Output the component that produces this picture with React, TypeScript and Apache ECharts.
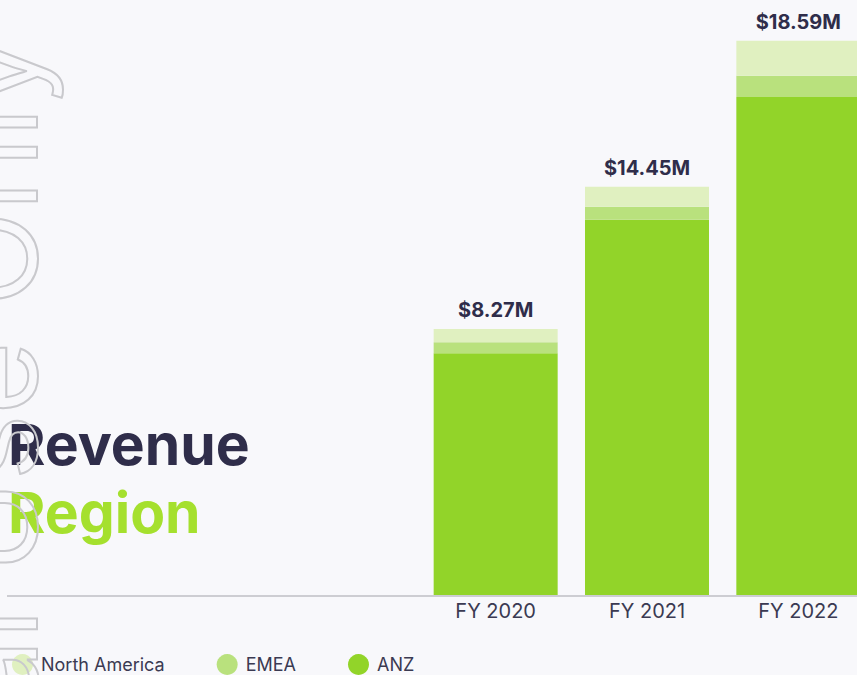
import React, { useEffect, useRef } from "react";
import * as echarts from "echarts";

const categories = ["FY 2020", "FY 2021", "FY 2022"];
const anzValues = [8.13, 12.61, 16.74];
const emeaValues = [0.37, 0.44, 0.71];
const northAmericaValues = [0.44, 0.67, 1.18];
const totalLabels = ["$8.27M", "$14.45M", "$18.59M"];
const legendNames = ["North America", "EMEA", "ANZ"];

const COLORS = {
  anz: "#92d429",
  emea: "#b9e17d",
  na: "#e0f0c0",
  dark: "#2f2d4a",
  lime: "#a5e02e",
  bg: "#f8f8fb",
};

export default function App() {
  const ref = useRef<HTMLDivElement>(null);
  useEffect(() => {
    if (!ref.current) return;
    const chart = echarts.init(ref.current, null, { renderer: "svg" });
    chart.setOption({
      animation: false,
      backgroundColor: COLORS.bg,
      grid: { left: 420, right: 0, top: 0, bottom: 80 },
      xAxis: {
        type: "category",
        data: categories,
        axisLine: { show: false },
        axisTick: { show: false },
        axisLabel: {
          fontFamily: "Inter",
          fontSize: 20,
          color: "#3b3a52",
          margin: 6,
        },
      },
      yAxis: { type: "value", min: 0, max: 20, show: false, splitLine: { show: false } },
      legend: {
        data: legendNames,
        left: 7,
        top: 649,
        icon: "circle",
        itemWidth: 21,
        itemHeight: 21,
        itemGap: 52,
        textStyle: {
          fontFamily: "Inter",
          fontSize: 18,
          color: "#3b3a52",
          padding: [0, 0, 0, 3],
        },
      },
      series: [
        {
          name: "ANZ",
          type: "bar",
          stack: "total",
          data: anzValues,
          barWidth: 124,
          itemStyle: { color: COLORS.anz },
        },
        {
          name: "EMEA",
          type: "bar",
          stack: "total",
          data: emeaValues,
          itemStyle: { color: COLORS.emea },
        },
        {
          name: "North America",
          type: "bar",
          stack: "total",
          data: northAmericaValues,
          itemStyle: { color: COLORS.na },
          label: {
            show: true,
            position: "top",
            distance: 9,
            formatter: (p: any) => totalLabels[p.dataIndex],
            fontFamily: "Inter",
            fontWeight: "bold",
            fontSize: 20,
            color: COLORS.dark,
          },
        },
      ],
      graphic: [
        {
          type: "line",
          shape: { x1: 7, y1: 596, x2: 874, y2: 596 },
          style: { stroke: "#cdcdd2", lineWidth: 2 },
          z: 1,
        },
        {
          type: "text",
          x: 8,
          y: 444,
          style: {
            text: "Revenue",
            fontFamily: "Inter",
            fontWeight: "bold",
            fontSize: 57,
            fill: COLORS.dark,
            verticalAlign: "middle",
            align: "left",
          },
          z: 5,
        },
        {
          type: "text",
          x: 8,
          y: 512,
          style: {
            text: "Region",
            fontFamily: "Inter",
            fontWeight: "bold",
            fontSize: 57,
            fill: COLORS.lime,
            verticalAlign: "middle",
            align: "left",
          },
          z: 5,
        },
        {
          type: "text",
          x: -9,
          y: 36,
          rotation: Math.PI / 2,
          style: {
            text: "Internal Use Only",
            fontFamily: "Inter",
            fontWeight: "normal",
            fontSize: 125,
            fill: "none",
            stroke: "#c9c9cd",
            lineWidth: 2,
            verticalAlign: "middle",
            align: "right",
          },
          z: 100,
        },
      ],
    });
    return () => chart.dispose();
  }, []);
  return (
    <div style={{ position: "fixed", left: 0, top: 0, width: 857, height: 675, overflow: "hidden" }}>
      <div ref={ref} style={{ width: 874, height: 675 }} />
    </div>
  );
}
